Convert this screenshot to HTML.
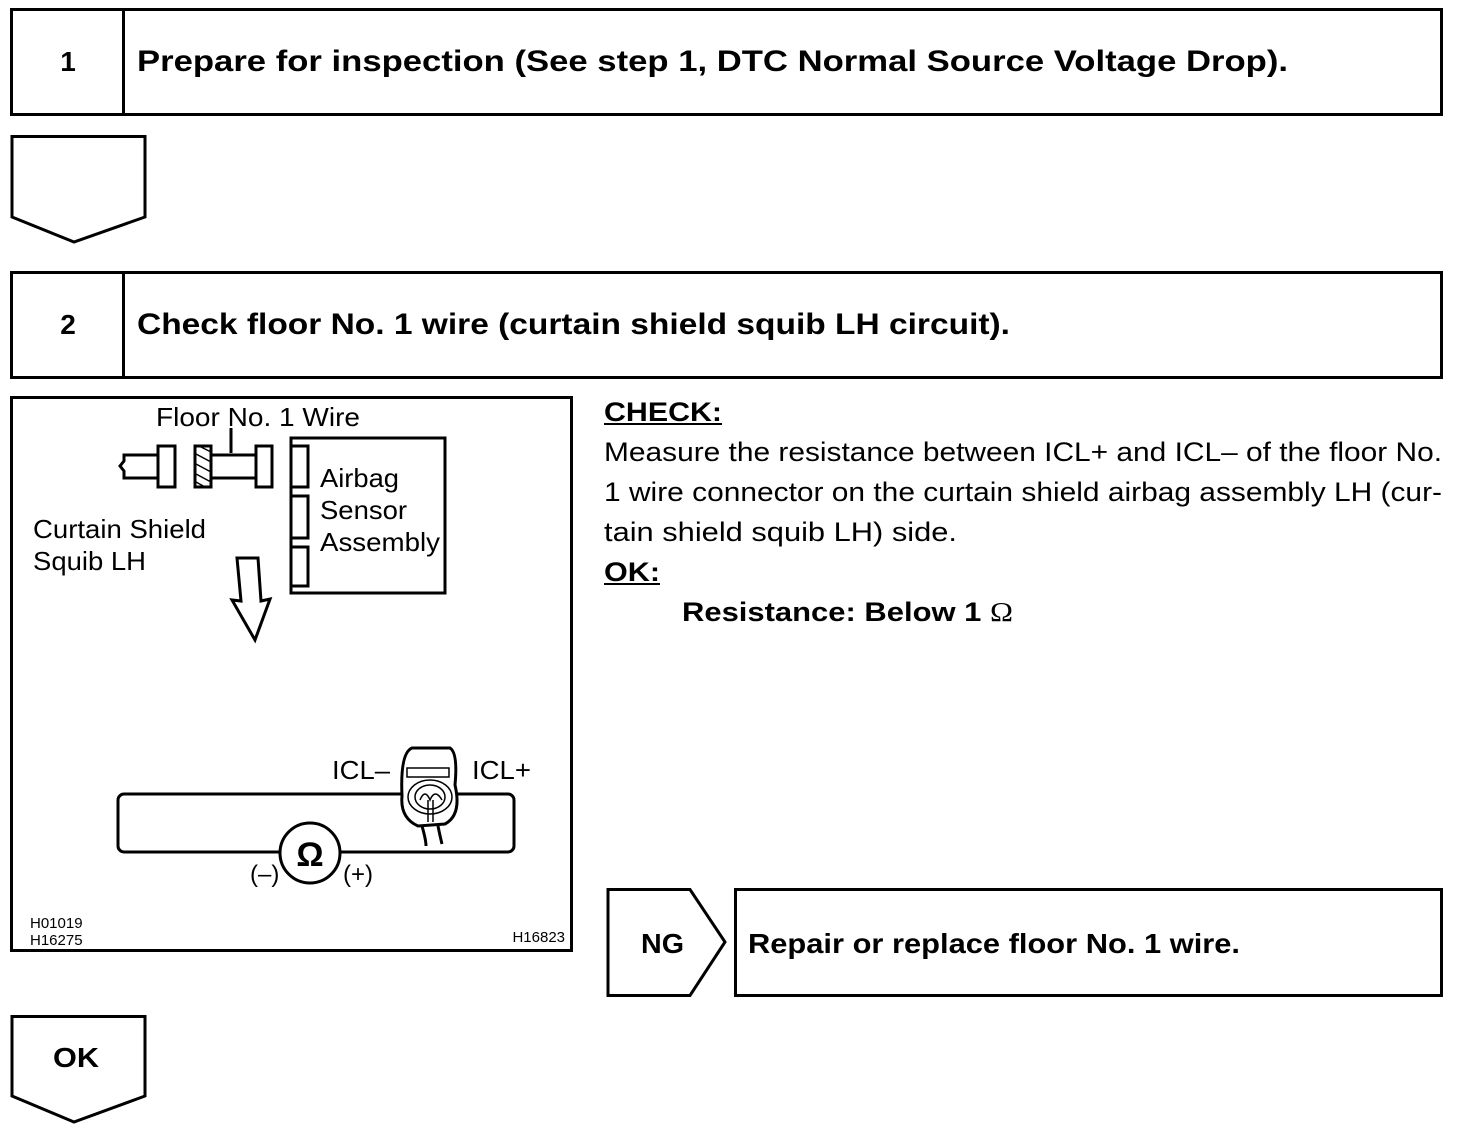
<!DOCTYPE html>
<html><head><meta charset="utf-8"><style>
html,body{margin:0;padding:0;background:#fff;}
svg{display:block;}
text{font-family:"Liberation Sans",Arial,sans-serif;fill:#000;}
.b{font-weight:bold;}
</style></head><body>
<svg width="1472" height="1134" viewBox="0 0 1472 1134" xmlns="http://www.w3.org/2000/svg">
<g fill="none" stroke="#000" stroke-width="3">
<rect x="11.5" y="9.5" width="1430" height="105"/>
<line x1="123.5" y1="9" x2="123.5" y2="115"/>
<polygon points="12,136.5 145,136.5 145,217 74,242 12,217"/>
<rect x="11.5" y="272.5" width="1430" height="105"/>
<line x1="123.5" y1="272" x2="123.5" y2="378"/>
<rect x="11.5" y="397.5" width="560" height="553"/>
<polygon points="608,889.5 690,889.5 725,942 690,995.5 608,995.5"/>
<rect x="735.5" y="889.5" width="706" height="106"/>
<polygon points="12,1016.5 145,1016.5 145,1096 74,1122 12,1096"/>
</g>
<text class="b" x="68" y="71" font-size="28" text-anchor="middle">1</text>
<text class="b" x="137" y="71" font-size="30" textLength="1151" lengthAdjust="spacingAndGlyphs">Prepare for inspection (See step 1, DTC Normal Source Voltage Drop).</text>
<text class="b" x="68" y="334" font-size="28" text-anchor="middle">2</text>
<text class="b" x="137" y="334" font-size="30" textLength="873" lengthAdjust="spacingAndGlyphs">Check floor No. 1 wire (curtain shield squib LH circuit).</text>

<text class="b" x="604" y="421" font-size="27" textLength="118" lengthAdjust="spacingAndGlyphs">CHECK:</text>
<line x1="604" y1="424" x2="722" y2="424" stroke="#000" stroke-width="2"/>
<text x="604" y="461" font-size="27" textLength="838" lengthAdjust="spacingAndGlyphs">Measure the resistance between ICL+ and ICL– of the floor No.</text>
<text x="604" y="501" font-size="27" textLength="838" lengthAdjust="spacingAndGlyphs">1 wire connector on the curtain shield airbag assembly LH (cur-</text>
<text x="604" y="541" font-size="27" textLength="353" lengthAdjust="spacingAndGlyphs">tain shield squib LH) side.</text>
<text class="b" x="604" y="581" font-size="27" textLength="56" lengthAdjust="spacingAndGlyphs">OK:</text>
<line x1="604" y1="584" x2="660" y2="584" stroke="#000" stroke-width="2"/>
<text class="b" x="682" y="621" font-size="27" textLength="331" lengthAdjust="spacingAndGlyphs">Resistance: Below 1 <tspan font-family="Liberation Serif" font-weight="normal">Ω</tspan></text>

<text class="b" x="641" y="953" font-size="28" textLength="43" lengthAdjust="spacingAndGlyphs">NG</text>
<text class="b" x="748" y="953" font-size="28" textLength="492" lengthAdjust="spacingAndGlyphs">Repair or replace floor No. 1 wire.</text>
<text class="b" x="53" y="1067" font-size="28" textLength="46" lengthAdjust="spacingAndGlyphs">OK</text>

<!-- diagram -->
<g fill="none" stroke="#000" stroke-width="3">
<polyline points="158,455 124,455 124,461 120,466 124,471 124,478 158,478"/>
<rect x="158" y="446" width="17" height="41"/>
<rect x="195" y="446" width="16" height="41"/>
<rect x="211" y="455" width="45" height="23"/>
<rect x="256" y="446" width="16" height="41"/>
<rect x="291" y="438" width="154" height="155"/>
<rect x="291" y="446" width="17" height="41"/>
<rect x="291" y="496" width="17" height="42"/>
<rect x="291" y="547" width="17" height="39"/>
<polygon points="237,558 258,558 261,601 270,599 255,640 232,600 241,601"/>
<rect x="118" y="794" width="396" height="58" rx="6"/>
<path d="M402,796 Q400,753 412,748 L450,748 Q458,753 455,785 Q462,815 445,824 L418,826 Q400,818 402,796 Z" fill="#fff"/>
<path d="M422,826 Q426,840 426,846 M438,826 Q440,836 442,844" />
</g>
<g stroke="#000" stroke-width="1.5" fill="none">
<line x1="211" y1="452" x2="199" y2="446"/>
<line x1="211" y1="462" x2="196" y2="454"/>
<line x1="211" y1="472" x2="196" y2="464"/>
<line x1="211" y1="482" x2="196" y2="474"/>
<line x1="205" y1="487" x2="196" y2="482"/>
<rect x="407" y="768" width="42" height="9"/>
<ellipse cx="430" cy="797" rx="22" ry="17"/>
<ellipse cx="430" cy="797" rx="15" ry="12"/>
<path d="M420,800 Q425,788 430,800 Q435,788 442,800"/>
<line x1="428" y1="800" x2="428" y2="822"/><line x1="433" y1="800" x2="433" y2="822"/>
</g>
<circle cx="310" cy="853" r="30" fill="#fff" stroke="#000" stroke-width="3"/>
<text x="310" y="866" font-size="34" text-anchor="middle" font-weight="bold">Ω</text>
<text x="156" y="426" font-size="26" textLength="204" lengthAdjust="spacingAndGlyphs">Floor No. 1 Wire</text>
<line x1="231" y1="428" x2="231" y2="453" stroke="#000" stroke-width="3"/>
<text x="320" y="487" font-size="26" textLength="79" lengthAdjust="spacingAndGlyphs">Airbag</text>
<text x="320" y="519" font-size="26" textLength="87" lengthAdjust="spacingAndGlyphs">Sensor</text>
<text x="320" y="551" font-size="26" textLength="120" lengthAdjust="spacingAndGlyphs">Assembly</text>
<text x="33" y="538" font-size="26" textLength="173" lengthAdjust="spacingAndGlyphs">Curtain Shield</text>
<text x="33" y="570" font-size="26" textLength="113" lengthAdjust="spacingAndGlyphs">Squib LH</text>
<text x="332" y="779" font-size="26" textLength="58" lengthAdjust="spacingAndGlyphs">ICL–</text>
<text x="472" y="779" font-size="26" textLength="59" lengthAdjust="spacingAndGlyphs">ICL+</text>
<text x="250" y="882" font-size="24">(–)</text>
<text x="343" y="882" font-size="24">(+)</text>
<text x="30" y="928" font-size="15">H01019</text>
<text x="30" y="945" font-size="15">H16275</text>
<text x="565" y="942" font-size="15" text-anchor="end">H16823</text>
</svg>
</body></html>
